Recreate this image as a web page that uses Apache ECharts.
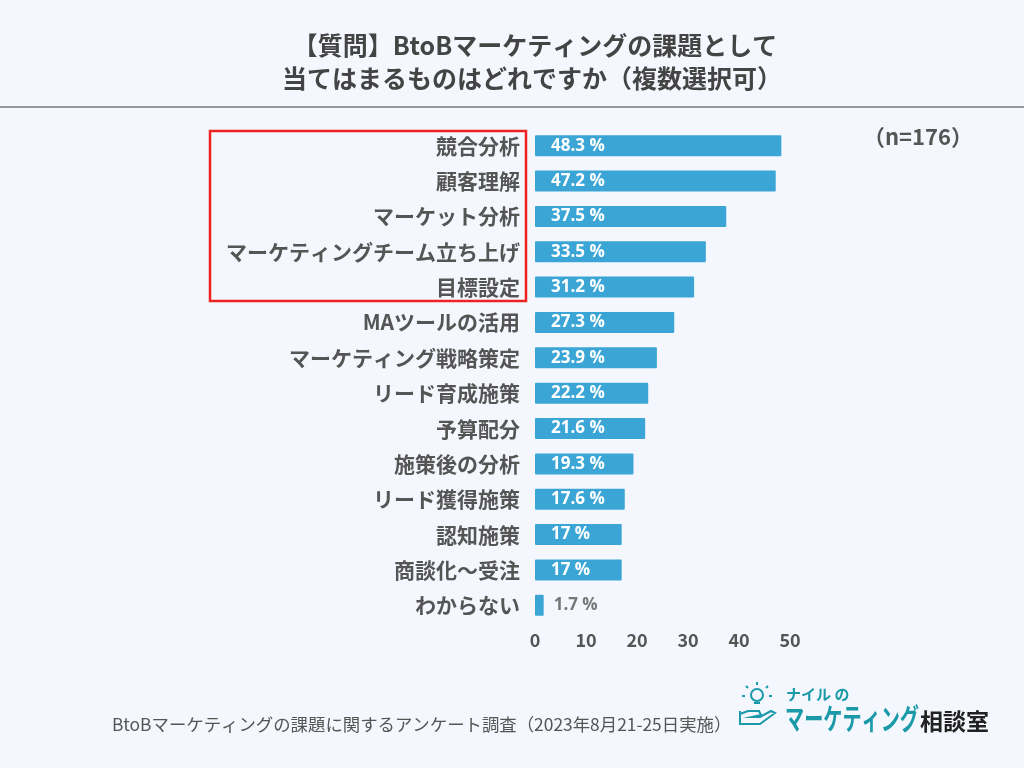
<!DOCTYPE html>
<html><head><meta charset="utf-8">
<script src="https://cdn.jsdelivr.net/npm/echarts@6/dist/echarts.min.js"></script>
<style>html,body{margin:0;padding:0;background:#f4f7fd;}#c{width:1024px;height:768px;}</style>
</head><body><div id="c"></div>
<script>
const categories = ['競合分析','顧客理解','マーケット分析','マーケティングチーム立ち上げ','目標設定','MAツールの活用','マーケティング戦略策定','リード育成施策','予算配分','施策後の分析','リード獲得施策','認知施策','商談化～受注','わからない'];
const values = [48.3,47.2,37.5,33.5,31.2,27.3,23.9,22.2,21.6,19.3,17.6,17,17,1.7];
const xTicks = [0,10,20,30,40,50];
const FONT = '"Noto Sans CJK JP","Noto Sans",sans-serif';
const TEAL = '#1a9aa8';
const chart = echarts.init(document.getElementById('c'));
chart.setOption({
  backgroundColor:'#f4f7fd',
  animation:false,
  grid:{left:535,right:234,top:128,bottom:145},
  xAxis:{type:'value',min:xTicks[0],max:xTicks[xTicks.length-1],interval:10,
    axisLine:{show:false},axisTick:{show:false},splitLine:{show:false},
    axisLabel:{fontFamily:FONT,fontSize:18,fontWeight:'bold',color:'#555',margin:8}},
  yAxis:{type:'category',data:categories,inverse:true,
    axisLine:{show:false},axisTick:{show:false},
    axisLabel:{fontFamily:FONT,fontSize:21,fontWeight:'bold',color:'#555',margin:15}},
  series:[{type:'bar',barWidth:21,
    data:values.map((v,i)=>({value:v,label:v<5?{position:'right',distance:10,color:'#777'}:{}})),
    itemStyle:{color:'#3ba6d6',borderRadius:1},
    label:{show:true,position:'insideLeft',distance:16,color:'#fff',fontFamily:'"Open Sans","Noto Sans",sans-serif',fontSize:17,fontWeight:'bold',
      formatter:p=>p.value+' %'}}],
  graphic:[
    {type:'text',x:535,y:45,style:{text:'【質問】BtoBマーケティングの課題として',font:'bold 25px '+FONT,fill:'#444',textAlign:'center',textVerticalAlign:'middle'}},
    {type:'text',x:532,y:78,style:{text:'当てはまるものはどれですか（複数選択可）',font:'bold 25px '+FONT,fill:'#444',textAlign:'center',textVerticalAlign:'middle'}},
    {type:'line',shape:{x1:0,y1:107,x2:1024,y2:107},style:{stroke:'#999',lineWidth:2}},
    {type:'rect',shape:{x:210,y:131,width:316,height:170},style:{fill:'none',stroke:'#ee2222',lineWidth:2.5}},
    {type:'text',x:863,y:137,style:{text:'（n=176）',font:'bold 22px '+FONT,fill:'#555',textVerticalAlign:'middle'}},
    {type:'text',x:112,y:724,style:{text:'BtoBマーケティングの課題に関するアンケート調査（2023年8月21-25日実施）',font:'17.4px '+FONT,fill:'#555',textVerticalAlign:'middle'}},
    {type:'circle',shape:{cx:757,cy:695,r:6},style:{fill:'none',stroke:TEAL,lineWidth:2}},
    {type:'line',shape:{x1:754,y1:703,x2:760,y2:703},style:{stroke:TEAL,lineWidth:2}},
    {type:'line',shape:{x1:757,y1:682,x2:757,y2:685},style:{stroke:TEAL,lineWidth:2}},
    {type:'line',shape:{x1:746,y1:686,x2:748,y2:688},style:{stroke:TEAL,lineWidth:2}},
    {type:'line',shape:{x1:768,y1:686,x2:766,y2:688},style:{stroke:TEAL,lineWidth:2}},
    {type:'line',shape:{x1:742,y1:696,x2:745,y2:696},style:{stroke:TEAL,lineWidth:2}},
    {type:'line',shape:{x1:769,y1:696,x2:772,y2:696},style:{stroke:TEAL,lineWidth:2}},
    {type:'polyline',shape:{points:[[740,711],[740,724],[760,724],[775,713],[771,711],[760,717],[752,717],[761,715],[759,711],[748,711],[740,714]]},style:{fill:'none',stroke:TEAL,lineWidth:2}},
    {type:'text',x:786,y:694,style:{text:'ナイル の',font:'bold 15px '+FONT,fill:TEAL,textVerticalAlign:'middle'}},
    {type:'text',x:785,y:719,scaleX:0.66,style:{text:'マーケティング',font:'bold 29px '+FONT,fill:TEAL,textVerticalAlign:'middle'}},
    {type:'text',x:920,y:721,style:{text:'相談室',font:'bold 23px '+FONT,fill:'#222',textVerticalAlign:'middle'}}
  ]
});
</script></body></html>
